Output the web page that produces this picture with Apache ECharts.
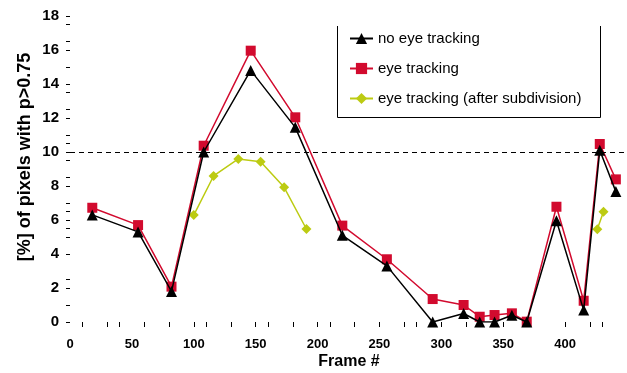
<!DOCTYPE html>
<html>
<head>
<meta charset="utf-8">
<script src="https://cdn.jsdelivr.net/npm/echarts@6/dist/echarts.min.js"></script>
<style>html,body{margin:0;padding:0;background:#fff;}#c{width:627px;height:373px;}</style>
</head>
<body>
<div id="c"></div>
<script>
// ---- data ----
const frames = [18, 55, 82, 108, 146, 182, 220, 256, 293, 318, 331, 343, 357, 369, 393, 415, 428, 441];
const noEyeTracking = [6.3, 5.3, 1.8, 10.0, 14.8, 11.45, 5.1, 3.3, 0, 0.5, 0, 0, 0.4, 0, 5.96, 0.7, 10.1, 7.67];
const eyeTracking = [6.72, 5.7, 2.08, 10.37, 15.96, 12.04, 5.67, 3.69, 1.35, 1.0, 0.31, 0.41, 0.51, 0.02, 6.78, 1.25, 10.47, 8.39];
const subdivFrames = [100, 116, 136, 154, 173, 191, 300, 426, 431];
const subdivValues = [6.29, 8.59, 9.59, 9.43, 7.92, 5.47, '-', 5.45, 6.49];
const thresholdValue = 10;
const xTicks = [10, 30, 40, 60, 80, 100, 110, 130, 150, 160, 180, 200, 210, 230, 250, 270, 280, 300, 320, 350, 400, 420, 430, 450];
const xLabels = [0, 50, 100, 150, 200, 250, 300, 350, 400];
const yTicks = [0, 1, 2, 2.5, 4, 5, 5.5, 6, 6.5, 7, 8, 8.5, 9.5, 10, 10.5, 11, 12, 12.5, 13.5, 14, 15, 16, 16.5, 17.5, 18];
const seriesNames = ['no eye tracking', 'eye tracking', 'eye tracking (after subdivision)'];

const pair = (xs, ys) => xs.map((x, i) => [x, ys[i]]);
const FONT = 'Liberation Sans';

const chart = echarts.init(document.getElementById('c'), null, {renderer: 'canvas'});
chart.setOption({
  animation: false,
  backgroundColor: '#fff',
  textStyle: {fontFamily: FONT},
  grid: {left: 70, right: 0, top: 16, bottom: 51},
  xAxis: {
    type: 'value', min: 0, max: 450, interval: 50,
    axisLine: {show: false},
    axisTick: {show: true, customValues: xTicks, length: 5, lineStyle: {color: '#000', width: 1}},
    axisLabel: {
      margin: 16, fontFamily: FONT, fontWeight: 'bold', fontSize: 13, color: '#000',
      customValues: xLabels
    },
    splitLine: {show: false}
  },
  yAxis: {
    type: 'value', min: 0, max: 18, interval: 2,
    axisLine: {show: false},
    axisTick: {show: true, customValues: yTicks, length: 4, lineStyle: {color: '#000', width: 1}},
    axisLabel: {margin: 11, fontFamily: FONT, fontWeight: 'bold', fontSize: 15, color: '#000'},
    splitLine: {show: false}
  },
  legend: {
    orient: 'vertical', left: 344, top: 26, itemGap: 15, itemWidth: 23, itemHeight: 14,
    data: seriesNames,
    textStyle: {fontFamily: FONT, fontSize: 15, color: '#000'}
  },
  graphic: [
    {type: 'polyline', z: 100, shape: {points: [[337.5, 26], [337.5, 117.5], [600.5, 117.5], [600.5, 26]]},
     style: {stroke: '#000', lineWidth: 1, fill: null}},
    {type: 'text', x: 25, y: 157, rotation: Math.PI / 2,
     style: {text: '[%] of pixels with p>0.75', font: 'bold 18px "Liberation Sans"', fill: '#000',
             align: 'center', verticalAlign: 'middle'}},
    {type: 'text', x: 349, y: 362,
     style: {text: 'Frame #', font: 'bold 16px "Liberation Sans"', fill: '#000',
             align: 'center', verticalAlign: 'middle'}}
  ],
  series: [
    {
      name: seriesNames[1], type: 'line', z: 3,
      data: pair(frames, eyeTracking),
      symbol: 'rect', symbolSize: 10,
      itemStyle: {color: '#d20a2e'},
      lineStyle: {color: '#d20a2e', width: 1.5}
    },
    {
      name: seriesNames[0], type: 'line', z: 4,
      data: pair(frames, noEyeTracking),
      symbol: 'triangle', symbolSize: 11,
      itemStyle: {color: '#000'},
      lineStyle: {color: '#000', width: 1.5},
      markLine: {
        silent: true, symbol: 'none', label: {show: false},
        lineStyle: {color: '#000', type: [5, 4], width: 1.2},
        data: [{yAxis: thresholdValue}]
      }
    },
    {
      name: seriesNames[2], type: 'line', z: 2,
      data: pair(subdivFrames, subdivValues),
      connectNulls: false,
      symbol: 'diamond', symbolSize: 10,
      itemStyle: {color: '#bccb12'},
      lineStyle: {color: '#bccb12', width: 1.5}
    }
  ]
});
</script>
</body>
</html>
